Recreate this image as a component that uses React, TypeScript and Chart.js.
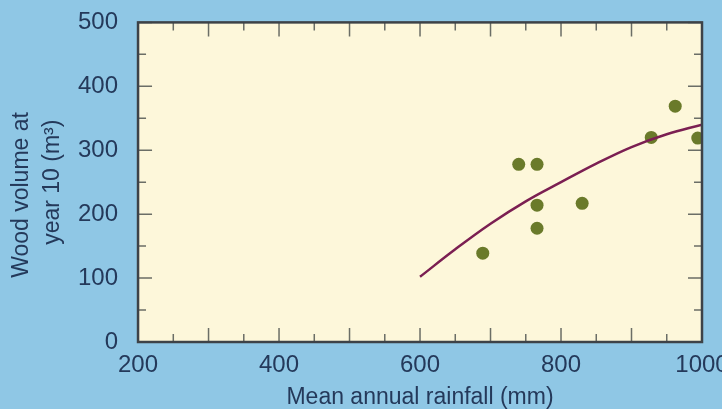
import React, { useEffect, useRef } from 'react';
import { Chart, registerables } from 'chart.js';

Chart.register(...registerables);

// ---- data ----
const rainfall = [689, 740, 766, 766, 766, 830, 928, 962, 994];
const woodVolume = [139, 278, 278, 214, 178, 217, 320, 369, 319];

const fitRainfall = [600, 650, 700, 750, 800, 850, 900, 950, 1000];
const fitVolume = [102, 145, 185, 220, 250, 279, 305, 325, 340];

const xTickValues = [200, 400, 600, 800, 1000];
const yTickValues = [0, 100, 200, 300, 400, 500];

const xTitle = 'Mean annual rainfall (mm)';
const yTitle = ['Wood volume at    ', 'year 10 (m³)'];

// ---- styles ----
const BG = '#8fc7e5';
const PLOT_BG = '#fdf7da';
const TEXT = '#24395a';
const FRAME = '#3d4247';
const POINT = '#6a7a2a';
const CURVE = '#7b1f52';
const FONT = "'Liberation Sans', Arial, Helvetica, sans-serif";

const framePlugin = {
  id: 'frame',
  beforeDraw(chart: any) {
    const { ctx, chartArea } = chart;
    const { left, top, right, bottom } = chartArea;
    ctx.save();
    ctx.fillStyle = PLOT_BG;
    ctx.fillRect(left, top, right - left, bottom - top);
    ctx.restore();
  },
  beforeDatasetsDraw(chart: any) {
    const { ctx, chartArea, scales } = chart;
    const { left, top, right, bottom } = chartArea;
    const xs = scales.x;
    const ys = scales.y;
    ctx.save();
    ctx.strokeStyle = '#6b6e66';
    ctx.lineWidth = 1.5;
    ctx.beginPath();
    for (let v = xs.min; v <= xs.max; v += 50) {
      const p = xs.getPixelForValue(v);
      const len = v % 100 === 0 ? 14 : 8;
      ctx.moveTo(p, bottom);
      ctx.lineTo(p, bottom - len);
      ctx.moveTo(p, top);
      ctx.lineTo(p, top + len);
    }
    for (let v = ys.min; v <= ys.max; v += 50) {
      const p = ys.getPixelForValue(v);
      const len = v % 100 === 0 ? 14 : 8;
      ctx.moveTo(left, p);
      ctx.lineTo(left + len, p);
      ctx.moveTo(right, p);
      ctx.lineTo(right - len, p);
    }
    ctx.stroke();
    ctx.restore();
  },
  afterDatasetsDraw(chart: any) {
    const { ctx, chartArea } = chart;
    const { left, top, right, bottom } = chartArea;
    ctx.save();
    ctx.strokeStyle = FRAME;
    ctx.lineWidth = 2.5;
    ctx.strokeRect(left, top, right - left, bottom - top);
    ctx.restore();
  },
};

export default function App() {
  const canvasRef = useRef<HTMLCanvasElement | null>(null);

  useEffect(() => {
    if (!canvasRef.current) return;
    const chart = new Chart(canvasRef.current, {
      type: 'scatter',
      data: {
        datasets: [
          {
            type: 'line',
            label: 'Fit',
            data: fitRainfall.map((x, i) => ({ x, y: fitVolume[i] })),
            borderColor: CURVE,
            borderWidth: 2.5,
            pointRadius: 0,
            fill: false,
            tension: 0.4,
          } as any,
          {
            type: 'scatter',
            label: 'Observed',
            data: rainfall.map((x, i) => ({ x, y: woodVolume[i] })),
            backgroundColor: POINT,
            borderWidth: 0,
            pointRadius: 6.5,
          } as any,
        ],
      },
      options: {
        animation: false,
        responsive: true,
        maintainAspectRatio: false,
        layout: { padding: { left: 0, top: 10, right: 58, bottom: 0 } },
        plugins: {
          legend: { display: false },
          tooltip: { enabled: false },
        },
        scales: {
          x: {
            type: 'linear',
            min: 200,
            max: 1000,
            afterBuildTicks: (s: any) => {
              s.ticks = xTickValues.map((v) => ({ value: v }));
            },
            grid: { display: false, drawTicks: false },
            border: { display: false },
            ticks: {
              padding: 8.6,
              color: TEXT,
              maxRotation: 0,
              autoSkip: false,
              font: { family: FONT, size: 24 },
              callback: (v: any) => String(v),
            },
            title: {
              display: true,
              text: xTitle,
              color: TEXT,
              font: { family: FONT, size: 23, lineHeight: 1.0 },
              padding: { top: -1.5, bottom: 10.5 },
            },
          },
          y: {
            type: 'linear',
            min: 0,
            max: 500,
            afterBuildTicks: (s: any) => {
              s.ticks = yTickValues.map((v) => ({ value: v }));
            },
            grid: { display: false, drawTicks: false },
            border: { display: false },
            ticks: {
              padding: 20,
              color: TEXT,
              autoSkip: false,
              font: { family: FONT, size: 24 },
              callback: (v: any) => String(v),
            },
            title: {
              display: true,
              text: yTitle,
              color: TEXT,
              font: { family: FONT, size: 23, lineHeight: 31 / 23 },
              padding: { top: 6.5, bottom: -10.5 },
            },
          },
        },
      },
      plugins: [framePlugin],
    });
    return () => chart.destroy();
  }, []);

  return (
    <div
      style={{
        position: 'fixed',
        left: 0,
        top: 0,
        width: 722,
        height: 409,
        overflow: 'hidden',
        background: BG,
      }}
    >
      <div style={{ position: 'absolute', left: 0, top: -12, width: 760, height: 432 }}>
        <canvas ref={canvasRef} />
      </div>
    </div>
  );
}
